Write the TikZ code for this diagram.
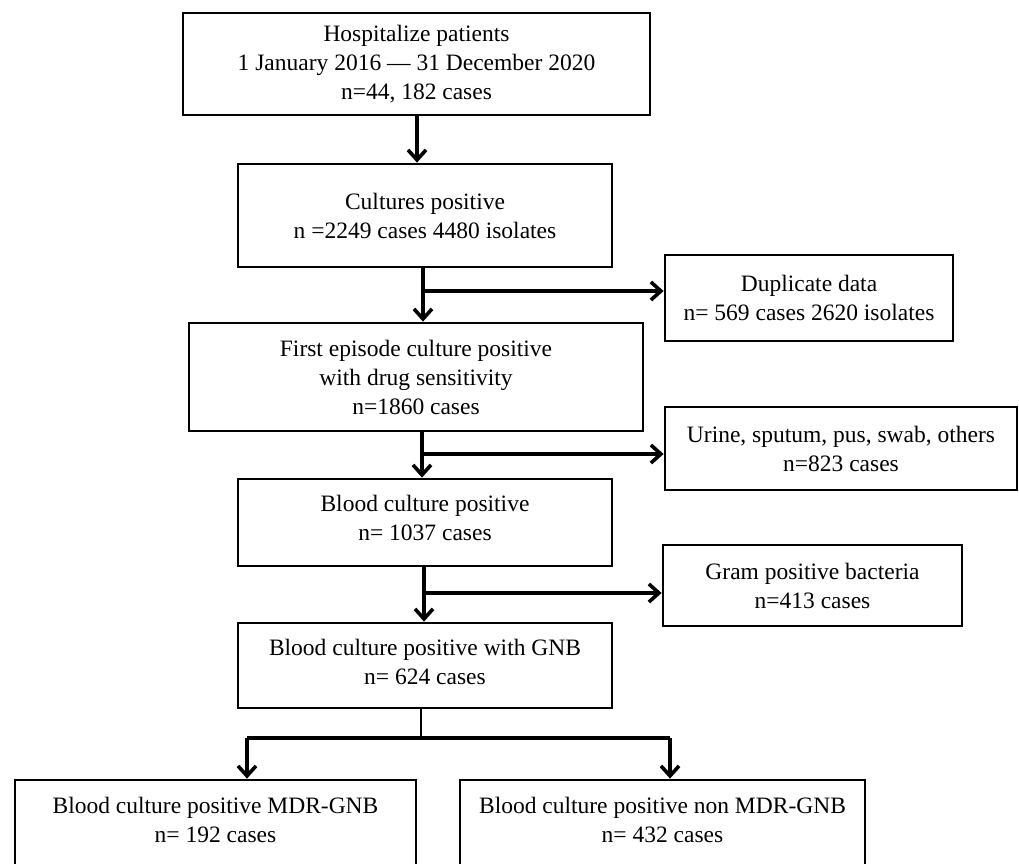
\documentclass[tikz,border=0pt]{standalone}
\usepackage{fontspec}
\setmainfont{Liberation Serif}
\usetikzlibrary{arrows.meta}
\begin{document}
\begin{tikzpicture}[x=1pt,y=-1pt,
  every node/.style={font=\fontsize{23.5}{29}\selectfont},
  box/.style={draw, line width=2.8pt, align=center, inner sep=2pt},
  txt/.style={align=center, inner sep=0pt},
  arr/.style={line width=3.6pt, -{Straight Barb[length=10pt,width=18pt]}},
  thick line/.style={line width=3.4pt},
  thin line/.style={line width=2pt}]
\useasboundingbox (0,0) rectangle (1019,863);
\clip (0,0) rectangle (1019,863);

\node[box, minimum width=467pt, minimum height=102pt] (b1) at (416.5,64)
  {Hospitalize patients\\ 1 January 2016 --- 31 December 2020\\ n=44, 182 cases};
\node[box, minimum width=374pt, minimum height=103pt] (b2) at (425,215.5)
  {Cultures positive\\ n =2249 cases 4480 isolates};
\node[box, minimum width=288pt, minimum height=86pt] (dup) at (809,298)
  {Duplicate data\\ n= 569 cases 2620 isolates};
\node[box, minimum width=454pt, minimum height=108pt] (b3) at (416,377)
  {First episode culture positive\\ with drug sensitivity\\ n=1860 cases};
\node[box, minimum width=352pt, minimum height=83pt] (uri) at (841,448.5)
  {Urine, sputum, pus, swab, others\\ n=823 cases};
\node[box, minimum width=374pt, minimum height=87pt] (b4) at (425,522.5) {};
\node[txt] (b4t) at (425,518) {Blood culture positive\\ n= 1037 cases};
\node[box, minimum width=299pt, minimum height=81pt] (gram) at (812.5,585.5)
  {Gram positive bacteria\\ n=413 cases};
\node[box, minimum width=374pt, minimum height=85pt] (b5) at (425,665.5) {};
\node[txt] (b5t) at (425,662) {Blood culture positive with GNB\\ n= 624 cases};
\node[box, minimum width=401pt, minimum height=110pt] (bl) at (215.5,835) {};
\node[txt] (blt) at (215.5,820) {Blood culture positive MDR-GNB\\ n= 192 cases};
\node[box, minimum width=405pt, minimum height=110pt] (br) at (662.5,835) {};
\node[txt] (brt) at (662.5,820) {Blood culture positive non MDR-GNB\\ n= 432 cases};

\coordinate (a1) at (417,0);
\coordinate (j1) at (423,291);
\coordinate (j2) at (422,454);
\coordinate (j3) at (424,593);
\coordinate (j4) at (421,738);
\coordinate (jl) at (247,738);
\coordinate (jr) at (670,738);

\draw[arr] (a1 |- b1.south) -- (a1 |- b2.north);
\draw[arr] (j1 |- b2.south) -- (j1 |- b3.north);
\draw[arr] (j1) -- (j1 -| dup.west);
\draw[arr] (j2 |- b3.south) -- (j2 |- b4.north);
\draw[arr] (j2) -- (j2 -| uri.west);
\draw[arr] (j3 |- b4.south) -- (j3 |- b5.north);
\draw[arr] (j3) -- (j3 -| gram.west);
\draw[thin line] (j4 |- b5.south) -- (j4);
\draw[thick line] (jl) -- (jr);
\draw[arr] (jl) -- (jl |- bl.north);
\draw[arr] (jr) -- (jr |- br.north);
\end{tikzpicture}
\end{document}
